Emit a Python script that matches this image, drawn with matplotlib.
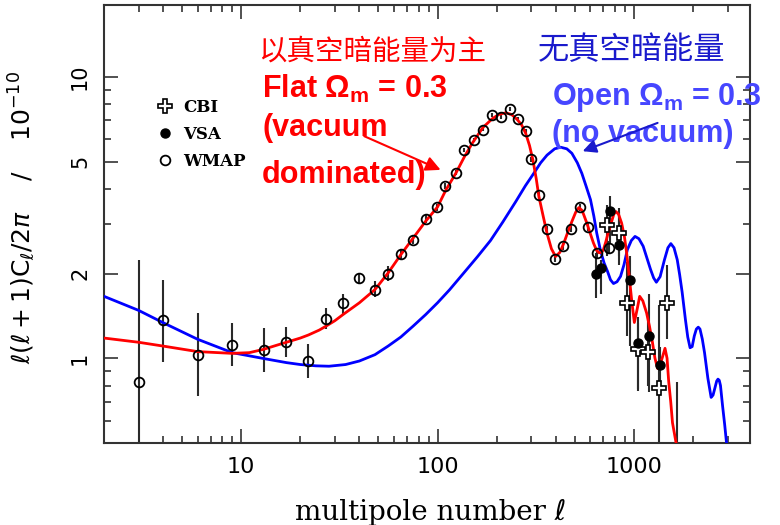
import matplotlib
matplotlib.use('Agg')
import matplotlib.pyplot as plt
from matplotlib.lines import Line2D
from matplotlib.ticker import FixedLocator, NullFormatter

# flat model, vacuum dominated (red curve)
red_l = [2, 3, 4, 6, 9, 11, 13, 15, 17, 20, 22, 25, 27, 30, 33, 40, 48, 56,
         65, 75, 87, 100, 110, 124, 137, 150, 170, 190, 205, 222, 238, 254,
         268, 281, 294, 306, 318, 328, 345, 361, 380, 399, 420, 440, 460, 483,
         505, 524, 545, 576, 600, 622, 645, 665, 685, 699, 720, 740, 770, 790,
         810, 835, 866, 895, 918, 946, 975, 1005, 1040, 1070, 1110, 1160, 1200,
         1240, 1280, 1320, 1380, 1440, 1475, 1503, 1540, 1572, 1640]
red_v = [1.18, 1.14, 1.105, 1.056, 1.041, 1.047, 1.076, 1.11, 1.14, 1.18,
         1.21, 1.26, 1.30, 1.36, 1.43, 1.575, 1.755, 2.01, 2.335, 2.67, 3.07,
         3.45, 3.95, 4.55, 5.2, 5.8, 6.6, 7.1, 7.35, 7.45, 7.35, 7.06, 6.75,
         6.3, 5.7, 5.06, 4.35, 3.76, 3.2, 2.78, 2.45, 2.30, 2.38, 2.57, 2.8,
         3.06, 3.3, 3.43, 3.35, 3.02, 2.77, 2.57, 2.42, 2.37, 2.38, 2.43, 2.6,
         2.8, 3.06, 3.25, 3.32, 3.25, 3.02, 2.7, 2.37, 1.955, 1.6, 1.34, 1.5,
         1.66, 1.6, 1.45, 1.3, 1.15, 1.0, 0.92, 0.98, 1.085, 1.0, 0.83, 0.7,
         0.59, 0.5]

# open model, no vacuum (blue curve)
blue_l = [2, 3, 4, 6, 9, 13, 17, 20, 24, 28, 34, 40, 48, 56, 65, 75, 87, 100,
          115, 136, 160, 186, 215, 250, 280, 309, 335, 361, 395, 424, 455, 483,
          515, 543, 570, 601, 625, 647, 677, 705, 733, 760, 787, 820, 855, 890,
          926, 970, 1013, 1060, 1115, 1165, 1215, 1260, 1301, 1360, 1431, 1490,
          1542, 1600, 1662, 1710, 1760, 1830, 1880, 1932, 1980, 2030, 2080,
          2127, 2170, 2230, 2289, 2380, 2473, 2530, 2580, 2640, 2680, 2720,
          2760, 2828, 2900, 2960]
blue_v = [1.66, 1.48, 1.338, 1.168, 1.047, 0.998, 0.965, 0.95, 0.94, 0.937,
          0.95, 0.978, 1.03, 1.105, 1.19, 1.30, 1.43, 1.575, 1.75, 2.01, 2.3,
          2.62, 3.05, 3.6, 4.1, 4.54, 4.95, 5.27, 5.55, 5.62, 5.55, 5.35, 4.95,
          4.54, 4.1, 3.66, 3.2, 2.78, 2.4, 2.18, 2.04, 1.9, 1.843, 1.87, 1.955,
          2.15, 2.43, 2.62, 2.71, 2.66, 2.5, 2.27, 2.07, 1.93, 1.863, 1.95,
          2.24, 2.47, 2.555, 2.47, 2.24, 1.98, 1.72, 1.37, 1.19, 1.09, 1.1,
          1.2, 1.27, 1.29, 1.27, 1.17, 1.047, 0.85, 0.726, 0.74, 0.78, 0.83,
          0.843, 0.835, 0.8, 0.678, 0.58, 0.503]

# WMAP band powers with error bar ends
wmap_l = [3, 4, 6, 9, 13, 17, 22, 27, 33, 40, 48, 56, 65, 75, 87, 99, 109,
          124, 137, 153, 170, 190, 211, 233, 256, 281, 300, 330, 359, 396, 437,
          480, 531, 586, 646, 746]
wmap_v = [0.824, 1.364, 1.027, 1.115, 1.07, 1.146, 0.978, 1.382, 1.566, 1.925,
          1.755, 2.0, 2.34, 2.64, 3.125, 3.445, 4.09, 4.57, 5.5, 5.94, 6.48,
          7.32, 7.2, 7.68, 7.06, 6.42, 5.1, 3.81, 2.88, 2.254, 2.5, 2.88, 3.445,
          2.93, 2.37, 2.47]
wmap_lo = [0.45, 0.97, 0.735, 0.935, 0.897, 1.01, 0.854, 1.267, 1.431, 1.83,
           1.654, 1.878, 2.24, 2.55, 3.03, 3.35, 4.0, 4.47, 5.4, 5.85, 6.4,
           7.2, 7.1, 7.55, 6.95, 6.3, 5.0, 3.72, 2.8, 2.2, 2.43, 2.8, 3.35,
           2.84, 2.28, 2.35]
wmap_hi = [2.24, 1.89, 1.443, 1.338, 1.284, 1.295, 1.121, 1.512, 1.695, 2.01,
           1.878, 2.125, 2.44, 2.73, 3.22, 3.54, 4.19, 4.67, 5.6, 6.05, 6.6,
           7.45, 7.3, 7.8, 7.2, 6.55, 5.2, 3.9, 2.96, 2.31, 2.57, 2.96, 3.54,
           3.02, 2.46, 2.6]

# CBI
cbi_l = [726, 840, 926, 1048, 1178, 1340, 1479, 1662]
cbi_v = [2.98, 2.79, 1.575, 1.076, 1.056, 0.787, 1.575, 0.4]
cbi_lo = [2.3, 2.3, 1.2, 0.78, 0.8, 0.45, 1.167, 0.3]
cbi_hi = [3.5, 3.3, 2.2, 1.40, 1.45, 1.55, 2.15, 0.822]

# VSA
vsa_l = [638, 682, 755, 840, 956, 1048, 1193, 1357]
vsa_v = [1.995, 2.095, 3.345, 2.53, 1.894, 1.13, 1.199, 0.947]
vsa_lo = [1.64, 1.685, 2.57, 2.15, 1.105, 0.766, 0.758, 0.8]
vsa_hi = [2.37, 2.24, 3.76, 3.41, 2.31, 1.338, 1.686, 1.1]

xticks = [10, 100, 1000]
xticklabels = ['10', '100', '1000']
yticks = [1, 2, 5, 10]
yticklabels = ['1', '2', '5', '10']

fig = plt.figure(figsize=(7.8, 5.25), dpi=100)
ax = fig.add_axes([0.1333, 0.1562, 0.8282, 0.8343])

bar_kw = dict(fmt='none', ecolor='#2a2a2a', elinewidth=1.5, capsize=0, zorder=2)
ax.errorbar(wmap_l, wmap_v, yerr=[[v - a for v, a in zip(wmap_v, wmap_lo)],
                                  [b - v for v, b in zip(wmap_v, wmap_hi)]], **bar_kw)
ax.errorbar(cbi_l, cbi_v, yerr=[[v - a for v, a in zip(cbi_v, cbi_lo)],
                                [b - v for v, b in zip(cbi_v, cbi_hi)]], **bar_kw)
ax.errorbar(vsa_l, vsa_v, yerr=[[v - a for v, a in zip(vsa_v, vsa_lo)],
                                [b - v for v, b in zip(vsa_v, vsa_hi)]], **bar_kw)

ax.plot(blue_l, blue_v, color='#0000ff', lw=2, zorder=3)
ax.plot(red_l, red_v, color='#ff0000', lw=2, zorder=4)

wmap_style = dict(ls='none', marker='o', ms=7, mfc='none', mec='black', mew=1.3)
cbi_style = dict(ls='none', marker='P', ms=10, mfc='white', mec='black', mew=1.2)
vsa_style = dict(ls='none', marker='o', ms=6.5, mfc='black', mec='black')
ax.plot(wmap_l, wmap_v, zorder=5, **wmap_style)
ax.plot(cbi_l, cbi_v, zorder=5, **cbi_style)
ax.plot(vsa_l, vsa_v, zorder=6, **vsa_style)

ax.set_xscale('log')
ax.set_yscale('log')
ax.set_xlim(2, 3900)
ax.set_ylim(0.5, 18)

ax.xaxis.set_major_locator(FixedLocator(xticks))
ax.set_xticklabels(xticklabels, fontsize=16)
ax.xaxis.set_minor_locator(FixedLocator([m * 10 ** k for k in range(0, 4) for m in range(2, 10)]))
ax.xaxis.set_minor_formatter(NullFormatter())
ax.yaxis.set_major_locator(FixedLocator(yticks))
ax.set_yticklabels(yticklabels, fontsize=15, rotation=90, va='center')
ax.yaxis.set_minor_locator(FixedLocator([0.6, 0.7, 0.8, 0.9, 3, 4, 6, 7, 8, 9]))
ax.yaxis.set_minor_formatter(NullFormatter())

ax.tick_params(which='both', direction='in', top=True, right=True,
               color='#333333', width=1.2)
ax.tick_params(which='major', length=10)
ax.tick_params(which='minor', length=5)
ax.tick_params(axis='x', which='major', pad=10)
ax.tick_params(axis='y', which='major', pad=10)
for s in ax.spines.values():
    s.set_linewidth(1.5)
    s.set_color('#333333')

ax.set_xlabel('multipole number ℓ', fontsize=20, family=['DejaVu Serif', 'DejaVu Sans'])
ax.xaxis.set_label_coords(0.505, -0.158)
ax.xaxis.label.set_va('center')
ax.set_ylabel(r'$\ell(\ell+1)\mathrm{C}_\ell/2\pi$    /    $10^{-10}$', fontsize=18)
ax.yaxis.set_label_coords(-0.127, 0.514)
ax.yaxis.label.set_va('center')

handles = [Line2D([], [], **cbi_style), Line2D([], [], **vsa_style), Line2D([], [], **wmap_style)]
ax.legend(handles, ['CBI', 'VSA', 'WMAP'], loc='upper left', bbox_to_anchor=(0.069, 0.805),
          frameon=False, borderpad=0, handlelength=1.0, handletextpad=0.6,
          labelspacing=0.6, prop=dict(family='DejaVu Serif', weight='bold', size=12))

# annotations
ax.text(0.415, 0.893, '以真空暗能量为主', transform=ax.transAxes, color='red',
        fontsize=20.5, family=['Noto Sans CJK SC'], ha='center', va='center')
ax.text(0.817, 0.897, '无真空暗能量', transform=ax.transAxes, color='#1a1acc',
        fontsize=22.5, family=['Noto Sans CJK SC'], ha='center', va='center')

red_txt = dict(transform=ax.transAxes, color='red', fontsize=22, weight='bold',
               family='Liberation Sans', ha='left', va='baseline', zorder=8)
ax.text(0.245, 0.787, r'Flat Ω$_{\mathregular{m}}$ = 0.3', **red_txt)
ax.text(0.245, 0.700, '(vacuum', **red_txt)
ax.text(0.245, 0.594, 'dominated)', **red_txt)
ax.annotate('', xy=(0.525, 0.621), xytext=(0.399, 0.703), xycoords='axes fraction',
            arrowprops=dict(arrowstyle='-|>', color='red', lw=1.5, mutation_scale=22))

blue_txt = dict(transform=ax.transAxes, color='#4646ff', fontsize=22, weight='bold',
                family='Liberation Sans', ha='left', va='baseline', zorder=8)
ax.text(0.693, 0.772, r'Open Ω$_{\mathregular{m}}$ = 0.3', **blue_txt)
ax.text(0.693, 0.688, '(no vacuum)', **blue_txt)
ax.annotate('', xy=(0.737, 0.664), xytext=(0.861, 0.733), xycoords='axes fraction',
            arrowprops=dict(arrowstyle='-|>', color='#1a1acc', lw=1.5, mutation_scale=20),
            zorder=9)

fig.savefig('out.png', dpi=100)
